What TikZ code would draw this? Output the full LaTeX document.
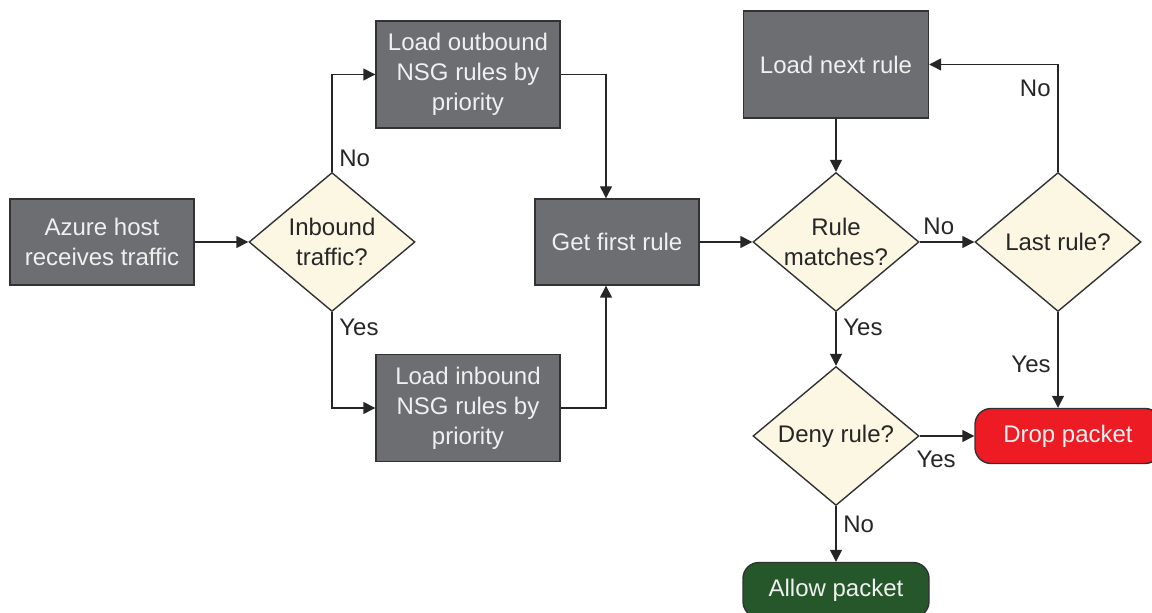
\documentclass[tikz,border=0pt]{standalone}
\usepackage{fontspec}
\setmainfont{Liberation Sans}
\usetikzlibrary{shapes.geometric,arrows.meta}
\definecolor{boxgrey}{RGB}{109,110,113}
\definecolor{edgegrey}{RGB}{50,50,52}
\definecolor{askfill}{RGB}{252,247,227}
\definecolor{dropred}{RGB}{237,28,36}
\definecolor{allowgreen}{RGB}{37,87,43}
\begin{document}
\begin{tikzpicture}[x=0.5pt, y=-0.5pt,
  every node/.style={font=\fontsize{12}{15}\selectfont},
  act/.style={rectangle, draw=edgegrey, line width=0.7pt, fill=boxgrey,
    text=white!94!black, align=center, minimum width=92pt, inner sep=2pt},
  ask/.style={diamond, aspect=1.2, draw=edgegrey, line width=0.7pt, fill=askfill,
    text=black!85, align=center, inner sep=0pt, minimum width=83pt, minimum height=69.5pt},
  stop/.style={rectangle, rounded corners=8pt, draw=edgegrey, line width=0.7pt,
    text=white!94!black, minimum width=93pt, minimum height=27.5pt},
  arr/.style={line width=0.7pt, black!85, -{Triangle[length=6pt, width=6pt]}},
  lab/.style={text=black!85}]
\useasboundingbox (0,0) rectangle (1152,613);
\node[act, minimum height=43pt] (host) at (102,242) {Azure host\\receives traffic};
\node[ask] (inb) at (332,242) {Inbound\\traffic?};
\node[act, minimum height=53.5pt] (outb) at (468,74.5) {Load outbound\\NSG rules by\\priority};
\node[act, minimum height=53.5pt] (inl) at (468,408) {Load inbound\\NSG rules by\\priority};
\node[act, minimum width=82pt, minimum height=43pt] (first) at (617,242) {Get first rule};
\node[ask] (match) at (836,242) {Rule\\matches?};
\node[act, minimum width=92.5pt, minimum height=53.5pt] (next) at (836,64.5) {Load next rule};
\node[ask] (last) at (1058,242) {Last rule?};
\node[ask] (deny) at (836,436) {Deny rule?};
\node[stop, fill=dropred] (drop) at (1068,436) {Drop packet};
\node[stop, fill=allowgreen] (allow) at (836,590) {Allow packet};
% connectors
\draw[arr] (host) -- (inb);
\draw[arr] (inb.north) |- node[lab, pos=0.07, right] {No} (outb.west);
\draw[arr] (inb.south) |- node[lab, pos=0.08, right] {Yes} (inl.west);
\draw[arr] (outb.east) -| ([xshift=-5.5pt]first.north);
\draw[arr] (inl.east) -| ([xshift=-5.5pt]first.south);
\draw[arr] (first) -- (match);
\draw[arr] (next) -- (match);
\draw[arr] (match) -- node[lab, pos=0.35, above] {No} (last);
\draw[arr] (last.north) |- node[lab, pos=0.39, left] {No} (next.east);
\draw[arr] (match) -- node[lab, pos=0.29, right] {Yes} (deny);
\draw[arr] (last.south) -- node[lab, pos=0.55, left] {Yes} (last.south |- drop.north);
\draw[arr] (deny) -- node[lab, pos=0.3, below, yshift=-4pt] {Yes} (drop);
\draw[arr] (deny) -- node[lab, pos=0.32, right] {No} (allow);
\end{tikzpicture}
\end{document}
